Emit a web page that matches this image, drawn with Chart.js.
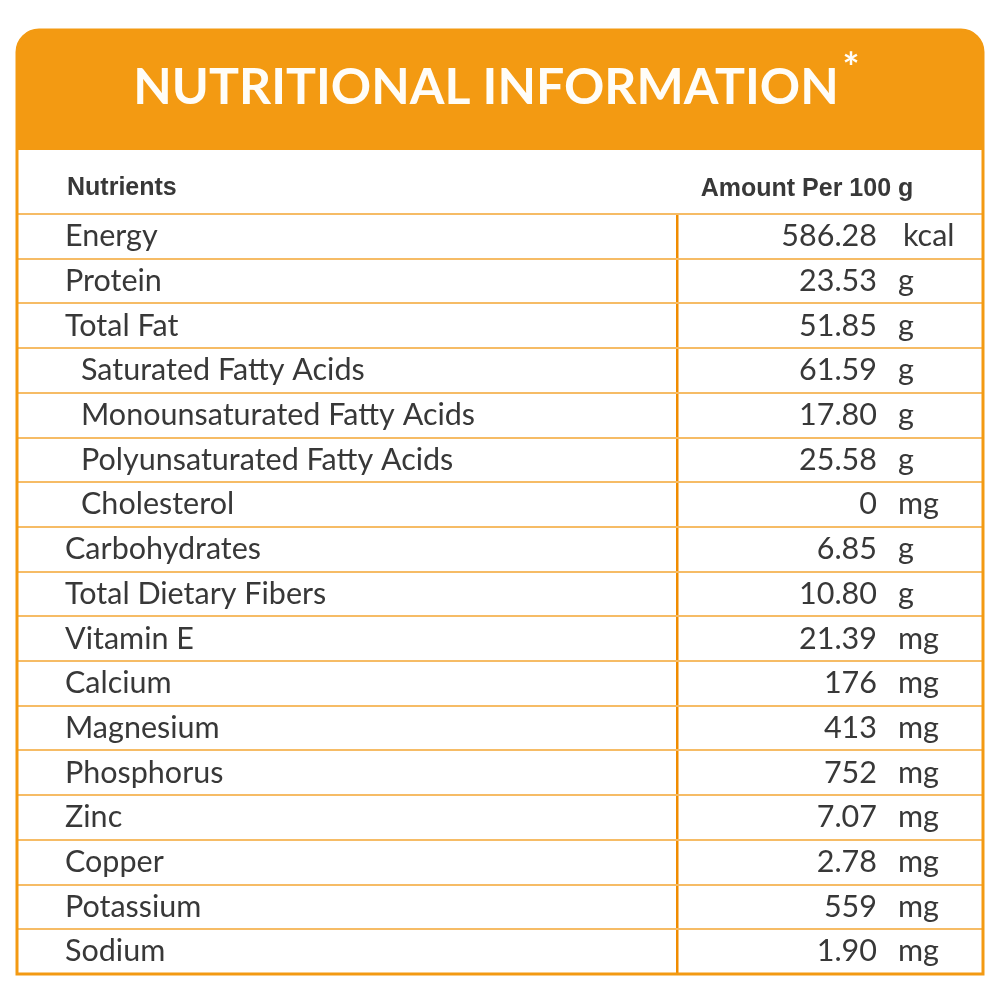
<!DOCTYPE html>
<html>
<head>
<meta charset="utf-8">
<script src="https://cdn.jsdelivr.net/npm/chart.js@4/dist/chart.umd.min.js"></script>
<style>
  html, body { margin: 0; padding: 0; background: #fff; }
  #wrap { width: 1000px; height: 1000px; }
</style>
</head>
<body>
<div id="wrap"><canvas id="chart"></canvas></div>
<script>
const title = 'NUTRITIONAL INFORMATION';
const columnHeads = ['Nutrients', 'Amount Per 100 g'];
const nutrients = [
  'Energy', 'Protein', 'Total Fat', 'Saturated Fatty Acids',
  'Monounsaturated Fatty Acids', 'Polyunsaturated Fatty Acids', 'Cholesterol',
  'Carbohydrates', 'Total Dietary Fibers', 'Vitamin E', 'Calcium', 'Magnesium',
  'Phosphorus', 'Zinc', 'Copper', 'Potassium', 'Sodium'
];
const amounts = [586.28, 23.53, 51.85, 61.59, 17.80, 25.58, 0, 6.85, 10.80,
  21.39, 176, 413, 752, 7.07, 2.78, 559, 1.90];
const units = ['kcal', 'g', 'g', 'g', 'g', 'g', 'mg', 'g', 'g', 'mg', 'mg',
  'mg', 'mg', 'mg', 'mg', 'mg', 'mg'];
const subItem = [false, false, false, true, true, true, true, false, false,
  false, false, false, false, false, false, false, false];

const ORANGE = '#F39A12';
const LINE = '#F6BC66';
const TEXT = '#383838';

const fmt = v => Number.isInteger(v) ? String(v) : v.toFixed(2);

// frame + header band + cell text
const tablePlugin = {
  id: 'tablePlugin',
  beforeDraw(chart) {
    const {ctx, chartArea: a} = chart;
    const top = 30, band = 150;
    ctx.save();
    ctx.fillStyle = ORANGE;
    ctx.beginPath();
    ctx.roundRect(a.left, top, a.right - a.left, band - top, [22, 22, 0, 0]);
    ctx.fill();

    ctx.fillStyle = '#FFFDF8';
    ctx.font = 'bold 50px Lato';
    ctx.textAlign = 'center';
    ctx.textBaseline = 'middle';
    ctx.fillText(title, 486, 88);
    ctx.textBaseline = 'alphabetic';
    ctx.font = 'bold 40px Lato';
    ctx.fillText('*', 851, 82);

    ctx.fillStyle = TEXT;
    ctx.font = 'bold 25px "Liberation Sans"';
    ctx.textBaseline = 'middle';
    ctx.textAlign = 'left';
    ctx.fillText(columnHeads[0], 67, 188);
    ctx.textAlign = 'center';
    ctx.fillText(columnHeads[1], 807, 189);
    ctx.restore();
  },
  afterDraw(chart) {
    const {ctx, chartArea: a, scales} = chart;
    const y = scales.y;
    ctx.save();
    ctx.fillStyle = TEXT;
    ctx.font = '30.5px Lato';
    ctx.textBaseline = 'middle';
    nutrients.forEach((name, i) => {
      const py = y.getPixelForValue(i);
      ctx.textAlign = 'left';
      ctx.fillText(name, subItem[i] ? 81 : 65, py);
      ctx.textAlign = 'right';
      ctx.fillText(fmt(amounts[i]), 877, py);
      ctx.textAlign = 'left';
      ctx.fillText(units[i], units[i] === 'kcal' ? 903 : 898, py);
    });

    ctx.strokeStyle = ORANGE;
    ctx.lineWidth = 3;
    ctx.beginPath();
    ctx.roundRect(a.left, 30, a.right - a.left, a.bottom - 30, [22, 22, 0, 0]);
    ctx.stroke();
    ctx.restore();
  }
};

new Chart(document.getElementById('chart'), {
  type: 'bar',
  data: {labels: nutrients, datasets: []},
  options: {
    indexAxis: 'y',
    responsive: true,
    maintainAspectRatio: false,
    animation: false,
    layout: {padding: {top: 214, left: 17, right: 17, bottom: 26}},
    plugins: {legend: {display: false}, tooltip: {enabled: false}},
    scales: {
      x: {
        type: 'linear',
        min: 0,
        max: 1,
        afterBuildTicks: s => { s.ticks = [{value: 0.684}]; },
        ticks: {display: false},
        grid: {drawTicks: false, color: '#F08C00', lineWidth: 2.5},
        border: {display: false}
      },
      y: {
        type: 'category',
        offset: true,
        ticks: {display: false},
        grid: {offset: true, drawTicks: false, color: LINE, lineWidth: 2},
        border: {display: false}
      }
    }
  },
  plugins: [tablePlugin]
});
</script>
</body>
</html>
